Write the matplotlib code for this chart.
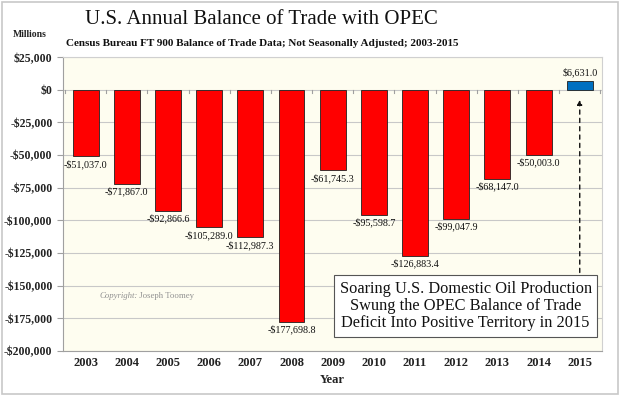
import matplotlib
matplotlib.use("Agg")
import matplotlib.pyplot as plt
from matplotlib.ticker import FuncFormatter
from matplotlib.patches import Rectangle

years = ["2003", "2004", "2005", "2006", "2007", "2008", "2009", "2010",
         "2011", "2012", "2013", "2014", "2015"]
values = [-51037.0, -71867.0, -92866.6, -105289.0, -112987.3, -177698.8,
          -61745.3, -95598.7, -126883.4, -99047.9, -68147.0, -50003.0, 6631.0]
yticks = [25000, 0, -25000, -50000, -75000, -100000, -125000, -150000,
          -175000, -200000]

plt.rcParams['font.family'] = ['Liberation Serif', 'DejaVu Serif']

fig = plt.figure(figsize=(6.2, 3.96), dpi=100)
fig.patch.set_facecolor('white')
fig.add_artist(Rectangle((0.003, 0.004), 0.994, 0.992, transform=fig.transFigure,
                         fill=False, edgecolor='#c8c8c8', linewidth=1.2))

ax = fig.add_axes([0.1016, 0.1136, 0.87, 0.742])
ax.set_facecolor('#fefdf0')

x = list(range(len(years)))
colors = ['#ff0000' if v < 0 else '#0070c0' for v in values]
ax.bar(x, values, width=0.63, color=colors, edgecolor='#202020', linewidth=0.6, zorder=3)

ax.set_ylim(-200000, 25000)
ax.set_xlim(-0.55, len(years) - 0.45)
ax.set_yticks(yticks)
ax.yaxis.set_major_formatter(FuncFormatter(lambda v, p: ('-$' if v < 0 else '$') + f"{abs(int(v)):,}"))
ax.set_xticks(x)
ax.set_xticklabels(years)
ax.tick_params(axis='x', length=0, pad=4, labelsize=9)
ax.tick_params(axis='y', length=4, color='#a0a0a0', labelsize=8.5)
for lab in ax.get_xticklabels() + ax.get_yticklabels():
    lab.set_fontweight('bold')
    lab.set_color('#222222')

ax.grid(axis='y', color='#c8c8c8', linewidth=0.8, zorder=0)
for s in ['top', 'right']:
    ax.spines[s].set_color('#d0d0d0')
for s in ['left', 'bottom']:
    ax.spines[s].set_color('#a0a0a0')

# small category tick marks along the zero line
for i in range(len(years) + 1):
    ax.plot([i - 0.5, i - 0.5], [0, -2200], color='#a0a0a0', linewidth=0.8, zorder=2)

for xi, v in zip(x, values):
    label = ('-$' if v < 0 else '$') + f"{abs(v):,.1f}"
    if v < 0:
        ax.annotate(label, (xi, v), xytext=(0, -2), textcoords='offset points',
                    ha='center', va='top', fontsize=7.3, color='#111111', zorder=4)
    else:
        ax.annotate(label, (xi, v), xytext=(0, 3), textcoords='offset points',
                    ha='center', va='bottom', fontsize=7.3, color='#111111', zorder=4)

ax.set_xlabel('Year', fontsize=9, fontweight='bold', color='#222222', labelpad=4)

# dashed arrow from box to 2015 bar
ax.annotate('', xy=(12, -5500), xytext=(12, -142000),
            arrowprops=dict(arrowstyle='-|>', linestyle=(0, (3, 3)), color='#111111',
                            linewidth=1.0, mutation_scale=7), zorder=5)

t1 = ax.text(0.33, -157500, 'Copyright:', fontsize=6.3, style='italic', color='#909090',
             ha='left', va='center')
ax.annotate(' Joseph Toomey', xy=(1, 0.5), xycoords=t1, fontsize=6.3, color='#909090',
            ha='left', va='center')

fig.text(0.751, 0.228, 'Soaring U.S. Domestic Oil Production\nSwung the OPEC Balance of Trade\nDeficit Into Positive Territory in 2015',
         ha='center', va='center', fontsize=11.8, color='#111111', linespacing=1.1,
         bbox=dict(boxstyle='square,pad=0.35', facecolor='white', edgecolor='#555555', linewidth=0.8),
         zorder=6)

fig.text(0.422, 0.952, 'U.S. Annual Balance of Trade with OPEC', ha='center', va='center',
         fontsize=15, color='#111111')
fig.text(0.423, 0.89, 'Census Bureau FT 900 Balance of Trade Data; Not Seasonally Adjusted; 2003-2015',
         ha='center', va='center', fontsize=8, fontweight='bold', color='#111111')
fig.text(0.048, 0.912, 'Millions', ha='center', va='center', fontsize=7, fontweight='bold',
         color='#222222')

fig.savefig('out.png', dpi=100)
